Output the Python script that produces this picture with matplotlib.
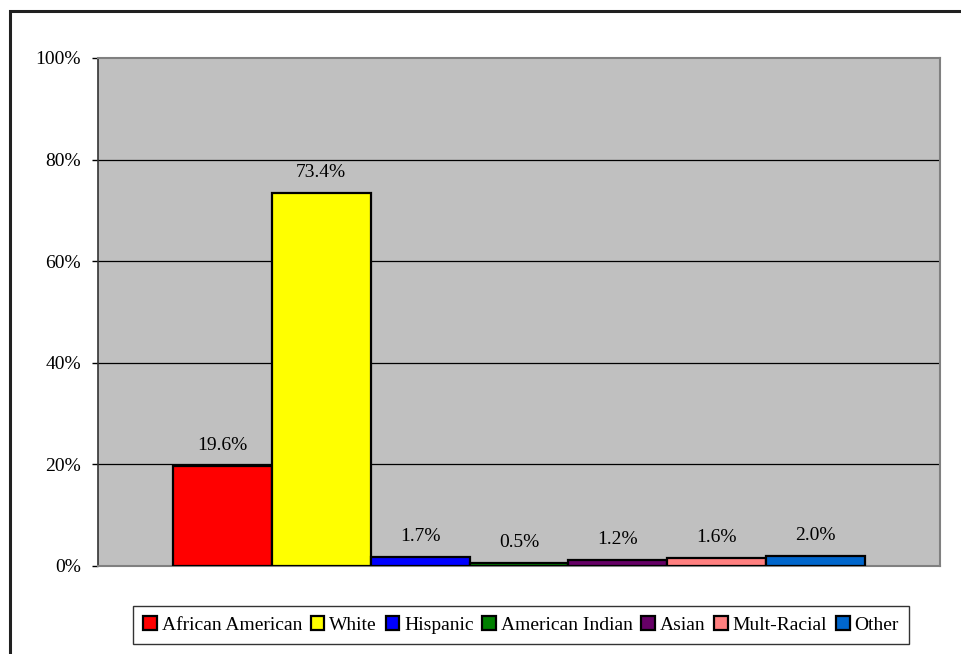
import matplotlib
matplotlib.use("Agg")
import matplotlib.pyplot as plt
from matplotlib.patches import Rectangle
from matplotlib.ticker import FuncFormatter

categories = ["African American", "White", "Hispanic", "American Indian",
              "Asian", "Mult-Racial", "Other"]
values = [19.6, 73.4, 1.7, 0.5, 1.2, 1.6, 2.0]
colors = ["#FF0000", "#FFFF00", "#0000FF", "#008000", "#660066", "#FF8080", "#0066CC"]
yticks = [0, 20, 40, 60, 80, 100]

plt.rcParams['font.family'] = ['Liberation Serif', 'DejaVu Serif']

W, H = 961, 654
fig = plt.figure(figsize=(W / 100, H / 100), dpi=100)
fig.patch.set_facecolor("white")

# outer chart frame (extends past right/bottom edges)
fig.patches.append(Rectangle((10 / W, -0.1), 1.2, (H - 11) / H + 0.1,
                             transform=fig.transFigure, fill=False,
                             edgecolor="#202020", linewidth=2.2, zorder=0))

ax = fig.add_axes([98 / W, (H - 566) / H, 842 / W, 508 / H])
ax.set_facecolor("#C0C0C0")

for i, (cat, v, c) in enumerate(zip(categories, values, colors)):
    ax.bar(i, v, width=1.0, color=c, edgecolor="black", linewidth=1.6,
           label=cat, zorder=3)
    ax.annotate(f"{v:.1f}%", xy=(i, v), xytext=(0, 11.5), textcoords="offset points",
                ha="center", va="baseline", fontsize=14, color="black", zorder=4)

ax.set_xlim(-1.258, 7.258)
ax.set_ylim(0, 100)
ax.set_yticks(yticks)
ax.yaxis.set_major_formatter(FuncFormatter(lambda v, p: f"{int(v)}%"))
ax.set_xticks([])
ax.tick_params(axis="y", direction="out", length=4.3, width=1, pad=8,
               labelsize=14, colors="black")
for y in yticks[1:-1]:
    ax.axhline(y, color="black", linewidth=0.9, zorder=1)

for s in ["top", "right", "bottom"]:
    ax.spines[s].set_color("#808080")
    ax.spines[s].set_linewidth(1.5)
ax.spines["left"].set_color("#333333")
ax.spines["left"].set_linewidth(1.2)

leg = fig.legend(loc="center", bbox_to_anchor=(521 / W, 1 - 625 / H), ncol=7,
                 fontsize=14, frameon=True, fancybox=False, shadow=False,
                 handlelength=0.7, handleheight=0.7, handletextpad=0.25,
                 columnspacing=0.45, borderpad=0.5, borderaxespad=0)
leg.get_frame().set_edgecolor("black")
leg.get_frame().set_linewidth(1.0)

fig.savefig("out.png", dpi=100, facecolor="white")
